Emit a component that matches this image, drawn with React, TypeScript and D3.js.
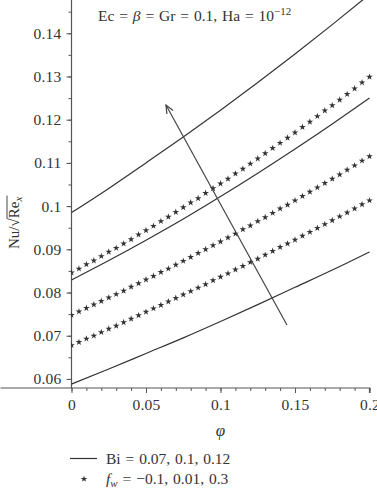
import React, { useEffect, useRef } from 'react';
import * as d3 from 'd3';

// phi values for the star series (step 0.005) and the solid lines (step 0.025)
const phiStars = d3.range(0, 41).map(i => i * 0.005);
const phiLines = [0, 0.025, 0.05, 0.075, 0.1, 0.125, 0.15, 0.175, 0.2];

// Bi = 0.07, 0.1, 0.12 (solid lines)
const biLow = [0.0588, 0.0623, 0.0659, 0.0695, 0.0733, 0.0772, 0.0812, 0.0852, 0.0894];
const biMid = [0.0829, 0.0874, 0.0921, 0.097, 0.1022, 0.1076, 0.1132, 0.119, 0.125];
const biHigh = [0.0985, 0.1041, 0.11, 0.116, 0.1222, 0.1286, 0.1352, 0.142, 0.149];

// fw = -0.1, 0.01, 0.3 (stars)
const fwLow = [
  0.0678, 0.0685, 0.0693, 0.07, 0.0708, 0.0716, 0.0723, 0.0731, 0.0739, 0.0747,
  0.0755, 0.0763, 0.0771, 0.0779, 0.0787, 0.0795, 0.0803, 0.0811, 0.0819, 0.0828,
  0.0836, 0.0844, 0.0853, 0.0861, 0.087, 0.0878, 0.0887, 0.0896, 0.0905, 0.0913,
  0.0922, 0.0931, 0.094, 0.0949, 0.0958, 0.0967, 0.0976, 0.0985, 0.0994, 0.1004,
  0.1013,
];
const fwMid = [
  0.0748, 0.0756, 0.0764, 0.0772, 0.078, 0.0788, 0.0796, 0.0804, 0.0813, 0.0821,
  0.083, 0.0838, 0.0847, 0.0855, 0.0864, 0.0873, 0.0882, 0.0891, 0.09, 0.0909,
  0.0918, 0.0927, 0.0936, 0.0946, 0.0955, 0.0965, 0.0974, 0.0984, 0.0994, 0.1003,
  0.1013, 0.1023, 0.1033, 0.1043, 0.1053, 0.1063, 0.1073, 0.1084, 0.1094, 0.1105,
  0.1115,
];
const fwHigh = [
  0.0846, 0.0855, 0.0865, 0.0874, 0.0884, 0.0894, 0.0903, 0.0913, 0.0923, 0.0934,
  0.0944, 0.0954, 0.0965, 0.0975, 0.0986, 0.0997, 0.1008, 0.1018, 0.103, 0.1041,
  0.1052, 0.1063, 0.1075, 0.1086, 0.1098, 0.111, 0.1122, 0.1134, 0.1146, 0.1158,
  0.117, 0.1183, 0.1195, 0.1208, 0.1221, 0.1233, 0.1246, 0.1259, 0.1272, 0.1286,
  0.1299,
];

const xTicks = [0, 0.05, 0.1, 0.15, 0.2];
const xTickLabels = ['0', '0.05', '0.1', '0.15', '0.2'];
const yTicks = [0.06, 0.07, 0.08, 0.09, 0.1, 0.11, 0.12, 0.13, 0.14];
const yTickLabels = ['0.06', '0.07', '0.08', '0.09', '0.1', '0.11', '0.12', '0.13', '0.14'];

// arrow: tail -> head in data units
const arrowFrom = [0.1446, 0.0725];
const arrowTo = [0.0634, 0.1234];

const W = 377;
const H = 489;
const FONT = '"Liberation Serif", "DejaVu Serif", serif';
const INK = '#333';

const App: React.FC = () => {
  const svgRef = useRef<SVGSVGElement>(null);

  useEffect(() => {
    const svg = d3.select(svgRef.current);
    svg.selectAll('*').remove();

    const x = d3.scaleLinear().domain([0, 0.2]).range([71.5, 369.5]);
    const y = d3.scaleLinear().domain([0.0579, 0.1477]).range([388, 0]);

    svg.append('defs').append('clipPath').attr('id', 'plot')
      .append('rect').attr('x', 71).attr('y', 0).attr('width', 306).attr('height', 388);

    // axes
    const xAxis = svg.append('g').attr('transform', 'translate(0,388)');
    xAxis.call(
      d3.axisBottom(x).tickValues(d3.range(0, 21).map(i => i * 0.01)).tickSize(3).tickFormat(() => '')
    );
    xAxis.call(g => g.selectAll('.domain').remove());
    const xMajor = svg.append('g').attr('transform', 'translate(0,388)');
    xMajor.call(
      d3.axisBottom(x).tickValues(xTicks).tickSize(5).tickPadding(6)
        .tickFormat((_, i) => xTickLabels[i])
    );

    const yMinor = svg.append('g').attr('transform', 'translate(71.5,0)');
    yMinor.call(
      d3.axisLeft(y).tickValues(d3.range(0, 18).map(i => 0.06 + i * 0.005)).tickSize(3).tickFormat(() => '')
    );
    yMinor.call(g => g.selectAll('.domain').remove());
    const yMajor = svg.append('g').attr('transform', 'translate(71.5,0)');
    yMajor.call(
      d3.axisLeft(y).tickValues(yTicks).tickSize(5).tickPadding(5)
        .tickFormat((_, i) => yTickLabels[i])
    );

    svg.selectAll('.domain').attr('stroke', '#555').attr('stroke-width', 1.2);
    svg.selectAll('.tick line').attr('stroke', '#555');
    svg.selectAll('.tick text')
      .attr('font-family', FONT).attr('font-size', 15.5).attr('letter-spacing', 0.2).attr('fill', INK);
    // extend y axis line to the top of the picture
    yMajor.select('.domain').attr('d', 'M0,0V388');
    xMajor.select('.domain').attr('d', 'M0.5,0H369.5V5');

    const plot = svg.append('g').attr('clip-path', 'url(#plot)');

    const line = d3.line<number>()
      .x((_, i) => x(phiLines[i]))
      .y(d => y(d))
      .curve(d3.curveMonotoneX);

    [biLow, biMid, biHigh].forEach(s => {
      plot.append('path')
        .attr('d', line(s) || '')
        .attr('fill', 'none')
        .attr('stroke', INK)
        .attr('stroke-width', 1.2);
    });

    const star = d3.symbol().type(d3.symbolStar).size(14);
    [fwLow, fwMid, fwHigh].forEach(s => {
      plot.append('g').selectAll('path')
        .data(s)
        .enter()
        .append('path')
        .attr('d', star() || '')
        .attr('transform', (d, i) => `translate(${x(phiStars[i])},${y(d)})`)
        .attr('fill', INK);
    });

    // arrow
    const x0 = x(arrowFrom[0]), y0 = y(arrowFrom[1]);
    const x1 = x(arrowTo[0]), y1 = y(arrowTo[1]);
    const ang = Math.atan2(y1 - y0, x1 - x0);
    const len = 9, spread = 0.4;
    svg.append('line')
      .attr('x1', x0).attr('y1', y0).attr('x2', x1).attr('y2', y1)
      .attr('stroke', '#444').attr('stroke-width', 1.2);
    svg.append('path')
      .attr('d', `M${x1 - len * Math.cos(ang - spread)},${y1 - len * Math.sin(ang - spread)}L${x1},${y1}L${x1 - len * Math.cos(ang + spread)},${y1 - len * Math.sin(ang + spread)}`)
      .attr('fill', 'none').attr('stroke', '#444').attr('stroke-width', 1.2);

    // annotation
    const note = svg.append('text')
      .attr('x', 98).attr('y', 21)
      .attr('font-family', FONT).attr('font-size', 15.5).attr('word-spacing', 1).attr('fill', INK);
    note.append('tspan').text('Ec = ');
    note.append('tspan').attr('font-style', 'italic').text('β');
    note.append('tspan').text(' = Gr = 0.1, Ha = 10');
    note.append('tspan').attr('dy', -6).attr('font-size', 11).text('−12');

    // x label
    svg.append('text')
      .attr('x', x(0.1)).attr('y', 436)
      .attr('text-anchor', 'middle')
      .attr('font-family', FONT).attr('font-size', 17).attr('font-style', 'italic')
      .attr('fill', INK).text('φ');

    // y label
    const yl = svg.append('g').attr('transform', 'translate(19,207) rotate(-90)');
    const ylt = yl.append('text')
      .attr('x', -42).attr('y', 0)
      .attr('font-family', FONT).attr('font-size', 15).attr('fill', INK);
    ylt.append('tspan').text('Nu/√');
    ylt.append('tspan').text('Re');
    ylt.append('tspan').attr('dy', 3).attr('font-size', 11).attr('font-style', 'italic').text('x');
    const bb = (ylt.node() as SVGTextElement).getBBox();
    const nuw = (ylt.node() as SVGTextElement).getSubStringLength(0, 4);
    yl.append('line')
      .attr('x1', -42 + nuw - 0.5).attr('x2', bb.x + bb.width + 1)
      .attr('y1', -12).attr('y2', -12)
      .attr('stroke', INK).attr('stroke-width', 0.9);

    // legend
    svg.append('line')
      .attr('x1', 70).attr('x2', 97).attr('y1', 458.5).attr('y2', 458.5)
      .attr('stroke', INK).attr('stroke-width', 1.2);
    svg.append('text')
      .attr('x', 106).attr('y', 463.5)
      .attr('font-family', FONT).attr('font-size', 15.5).attr('word-spacing', 1).attr('fill', INK)
      .text('Bi = 0.07, 0.1, 0.12');
    svg.append('path')
      .attr('d', star() || '')
      .attr('transform', 'translate(84,479)')
      .attr('fill', INK);
    const lg = svg.append('text')
      .attr('x', 106).attr('y', 484)
      .attr('font-family', FONT).attr('font-size', 15.5).attr('word-spacing', 1).attr('fill', INK);
    lg.append('tspan').attr('font-style', 'italic').text('f');
    lg.append('tspan').attr('dy', 3).attr('font-size', 11).attr('font-style', 'italic').text('w');
    lg.append('tspan').attr('dy', -3).text(' = −0.1, 0.01, 0.3');
  }, []);

  return (
    <svg
      ref={svgRef}
      width={W}
      height={H}
      style={{ position: 'absolute', left: 0, top: 0, background: '#fff' }}
    />
  );
};

export default App;
